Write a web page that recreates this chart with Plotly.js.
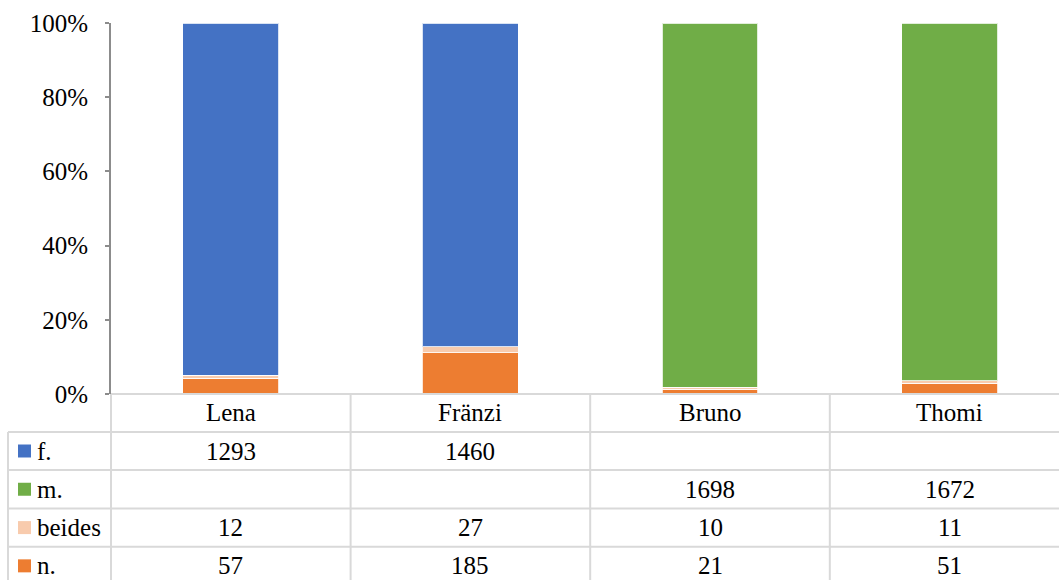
<!DOCTYPE html>
<html>
<head>
<meta charset="utf-8">
<script src="https://cdn.plot.ly/plotly-3.0.1.min.js"></script>
<style>
  html, body { margin: 0; padding: 0; background: #ffffff; }
  #chart { width: 1059px; height: 580px; }
</style>
</head>
<body>
<div id="chart"></div>
<script>
// Name categories and counts per answer
const categories = ['Lena', 'Fränzi', 'Bruno', 'Thomi'];
const fValues = [1293, 1460, null, null];
const mValues = [null, null, 1698, 1672];
const beidesValues = [12, 27, 10, 11];
const nValues = [57, 185, 21, 51];
const yTickValues = [0, 20, 40, 60, 80, 100];

// Table rows, top to bottom
const tableRows = [
  { label: 'f.', values: fValues, color: '#4472C4' },
  { label: 'm.', values: mValues, color: '#70AD47' },
  { label: 'beides', values: beidesValues, color: '#F8CBAD' },
  { label: 'n.', values: nValues, color: '#ED7D31' }
];

// Page geometry (px)
const W = 1059, H = 580;
const plotL = 111, plotT = 23, plotB = 394;
const colW = 239.6;                     // width of one category column
const plotW = W - plotL, plotH = plotB - plotT;
const xRange = [-0.5, -0.5 + plotW / colW];
const rowEdges = [394, 432, 470, 508.5, 546.7, 585];
const tableLeft = 8;
const gridColor = '#d9d9d9';
const textFont = { family: 'Times New Roman', size: 25, color: '#000' };

const px2x = px => (px - plotL) / plotW;
const py2y = py => (plotB - py) / plotH;

// Stacked bars, bottom to top
const stackOrder = [
  { name: 'n.', values: nValues, color: '#ED7D31' },
  { name: 'beides', values: beidesValues, color: '#F8CBAD' },
  { name: 'f.', values: fValues, color: '#4472C4' },
  { name: 'm.', values: mValues, color: '#70AD47' }
];

const traces = stackOrder.map(s => ({
  type: 'bar',
  name: s.name,
  x: categories,
  y: s.values,
  marker: { color: s.color, line: { color: 'rgba(255,255,255,0.8)', width: 1 } },
  hoverinfo: 'x+y+name'
}));

const shapes = [];
const annotations = [];

// Horizontal table lines
shapes.push({ type: 'line', xref: 'paper', yref: 'paper',
  x0: 0, x1: px2x(W + 20), y0: py2y(rowEdges[0]), y1: py2y(rowEdges[0]),
  line: { color: gridColor, width: 2 } });
for (let i = 1; i < rowEdges.length; i++) {
  shapes.push({ type: 'line', xref: 'paper', yref: 'paper',
    x0: px2x(tableLeft), x1: px2x(W + 20), y0: py2y(rowEdges[i]), y1: py2y(rowEdges[i]),
    line: { color: gridColor, width: 2 } });
}
// Vertical table lines
shapes.push({ type: 'line', xref: 'paper', yref: 'paper',
  x0: px2x(tableLeft), x1: px2x(tableLeft), y0: py2y(rowEdges[1]), y1: py2y(rowEdges[5]),
  line: { color: gridColor, width: 2 } });
for (let i = 0; i <= categories.length; i++) {
  const xp = px2x(plotL + i * colW);
  shapes.push({ type: 'line', xref: 'paper', yref: 'paper',
    x0: xp, x1: xp, y0: py2y(rowEdges[0]), y1: py2y(rowEdges[5]),
    line: { color: gridColor, width: 2 } });
}

// Category header row
categories.forEach(c => {
  annotations.push({ xref: 'x', yref: 'paper', x: c,
    y: py2y((rowEdges[0] + rowEdges[1]) / 2), text: c, showarrow: false,
    xanchor: 'center', yanchor: 'middle', font: textFont });
});

// Data rows with legend keys
tableRows.forEach((r, i) => {
  const yc = (rowEdges[i + 1] + rowEdges[i + 2]) / 2;
  shapes.push({ type: 'rect', xref: 'paper', yref: 'paper',
    x0: px2x(18), x1: px2x(31), y0: py2y(yc - 6.5), y1: py2y(yc + 6.5),
    fillcolor: r.color, line: { width: 0 } });
  annotations.push({ xref: 'paper', yref: 'paper', x: px2x(35), y: py2y(yc),
    text: r.label, showarrow: false, xanchor: 'left', yanchor: 'middle',
    font: textFont });
  r.values.forEach((v, j) => {
    if (v === null) return;
    annotations.push({ xref: 'x', yref: 'paper', x: categories[j], y: py2y(yc),
      text: String(v), showarrow: false, xanchor: 'center', yanchor: 'middle',
      font: textFont });
  });
});

const layout = {
  width: W,
  height: H,
  margin: { l: plotL, r: 0, t: plotT, b: H - plotB, pad: 0 },
  paper_bgcolor: '#ffffff',
  plot_bgcolor: '#ffffff',
  barmode: 'stack',
  barnorm: 'percent',
  bargap: 0.6,
  showlegend: false,
  xaxis: {
    type: 'category',
    range: xRange,
    showticklabels: false,
    showline: false,
    showgrid: false,
    zeroline: false,
    ticks: ''
  },
  yaxis: {
    range: [0, 100],
    tickvals: yTickValues,
    ticktext: yTickValues.map(v => v + '%'),
    showline: true,
    linecolor: '#8c8c8c',
    linewidth: 2,
    ticks: 'outside',
    ticklen: 4,
    tickcolor: '#8c8c8c',
    tickwidth: 2,
    ticklabelstandoff: 12,
    showgrid: false,
    zeroline: false,
    tickfont: textFont
  },
  shapes: shapes,
  annotations: annotations
};

Plotly.newPlot('chart', traces, layout, { displayModeBar: false });
</script>
</body>
</html>
